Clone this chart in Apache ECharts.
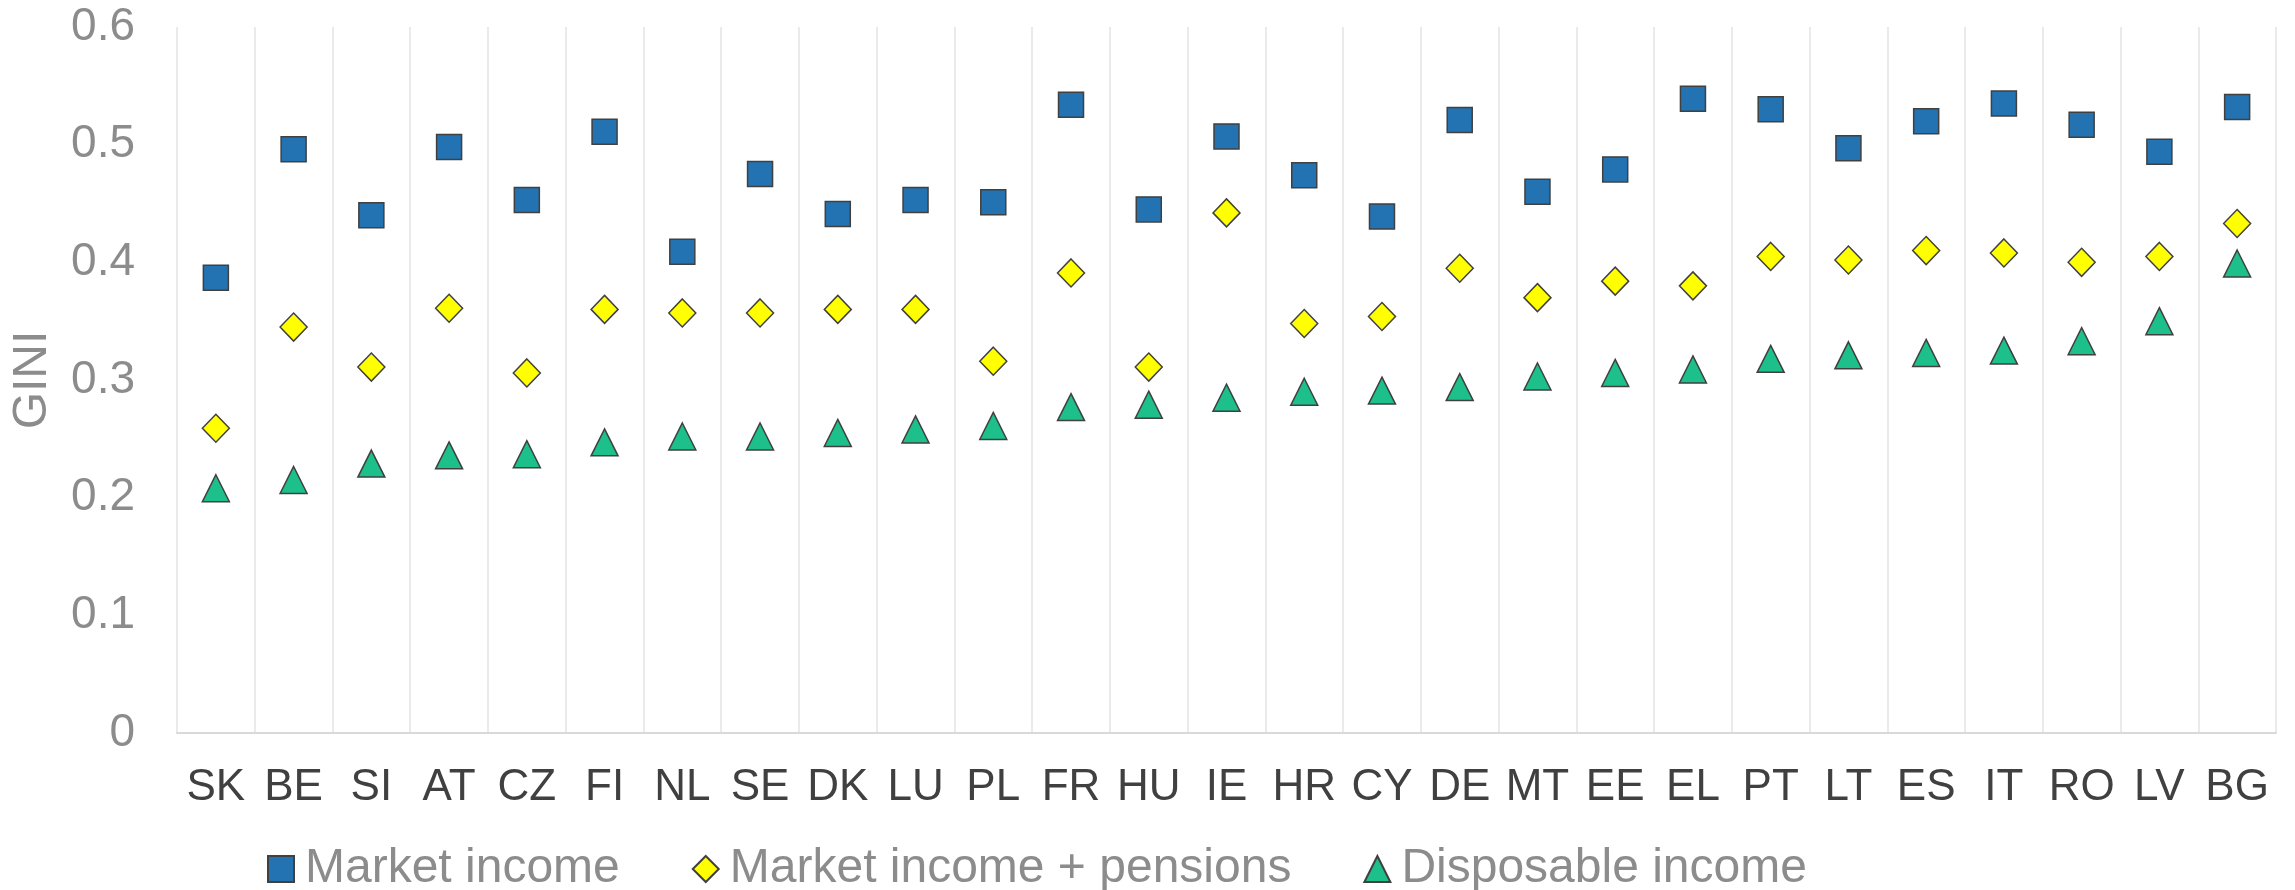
<!DOCTYPE html>
<html>
<head>
<meta charset="utf-8">
<title>GINI</title>
<script src="https://cdn.jsdelivr.net/npm/echarts@6/dist/echarts.min.js"></script>
<style>
    html, body { margin: 0; padding: 0; background: #fff; }
    #chart { width: 2295px; height: 890px; }
</style>
</head>
<body>
<div id="chart"></div>
<script>
    // countries, ordered by disposable income gini
    const countries = ['SK','BE','SI','AT','CZ','FI','NL','SE','DK','LU','PL','FR','HU','IE','HR','CY','DE','MT','EE','EL','PT','LT','ES','IT','RO','LV','BG'];

    const marketIncome = [0.387,0.496,0.440,0.498,0.453,0.511,0.409,0.475,0.441,0.453,0.451,0.534,0.445,0.507,0.474,0.439,0.521,0.460,0.479,0.539,0.530,0.497,0.520,0.535,0.517,0.494,0.532];
    const marketPensions = [0.259,0.345,0.311,0.361,0.306,0.360,0.357,0.357,0.360,0.360,0.316,0.391,0.311,0.442,0.348,0.354,0.395,0.370,0.384,0.380,0.405,0.402,0.410,0.408,0.400,0.405,0.433];
    const disposableIncome = [0.208,0.215,0.229,0.236,0.237,0.247,0.252,0.252,0.255,0.258,0.261,0.277,0.279,0.285,0.290,0.291,0.294,0.303,0.306,0.309,0.318,0.321,0.323,0.325,0.333,0.350,0.399];

    const font = 'Arial, "Liberation Sans", sans-serif';
    const markerBorder = { borderColor: '#404040', borderWidth: 1.5, opacity: 1 };

    let myChart = echarts.init(document.getElementById('chart'));

    let option = {
        animation: false,
        textStyle: { fontFamily: font },
        grid: {
            top: 27,
            left: 177,
            right: 19,
            bottom: 157,
            outerBoundsMode: 'none'
        },
        legend: {
            left: 262,
            top: 840,
            itemWidth: 26,
            itemHeight: 26,
            itemGap: 72,
            textStyle: {
                color: '#8c8c8c',
                fontSize: 48,
                fontFamily: font,
                padding: [0, 0, 0, 6]
            },
            data: [
                { name: 'Market income', icon: 'rect' },
                { name: 'Market income + pensions', icon: 'diamond' },
                { name: 'Disposable income', icon: 'triangle' }
            ]
        },
        xAxis: {
            type: 'category',
            data: countries,
            axisLine: { lineStyle: { color: '#d9d9d9', width: 2 } },
            axisTick: { show: false },
            axisLabel: {
                interval: 0,
                color: '#404040',
                fontSize: 44,
                margin: 33
            },
            splitLine: {
                show: true,
                interval: 0,
                lineStyle: { color: '#e3e3e3', width: 1.5 }
            }
        },
        yAxis: {
            type: 'value',
            min: 0,
            max: 0.6,
            interval: 0.1,
            name: 'GINI',
            nameLocation: 'middle',
            nameGap: 120,
            nameTextStyle: { color: '#8c8c8c', fontSize: 48 },
            axisLine: { show: false },
            axisTick: { show: false },
            splitLine: { show: false },
            axisLabel: {
                color: '#8c8c8c',
                fontSize: 46,
                margin: 42
            }
        },
        series: [
            {
                name: 'Market income',
                type: 'scatter',
                symbol: 'rect',
                symbolSize: 25,
                itemStyle: Object.assign({ color: '#2372b1' }, markerBorder),
                data: marketIncome
            },
            {
                name: 'Market income + pensions',
                type: 'scatter',
                symbol: 'diamond',
                symbolSize: [27, 28],
                itemStyle: Object.assign({ color: '#ffff00' }, markerBorder),
                data: marketPensions
            },
            {
                name: 'Disposable income',
                type: 'scatter',
                symbol: 'triangle',
                symbolSize: [27, 27],
                itemStyle: Object.assign({ color: '#1dbf8b' }, markerBorder),
                data: disposableIncome
            }
        ]
    };

    myChart.setOption(option);
</script>
</body>
</html>
